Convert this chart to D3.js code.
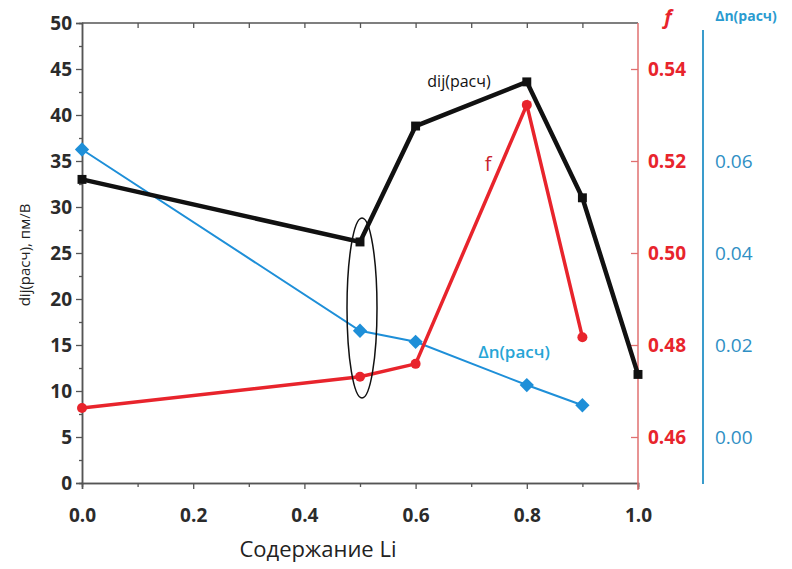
<!DOCTYPE html>
<meta charset="utf-8">
<title>dij, f, Δn vs Li</title>
<script src="https://d3js.org/d3.v7.min.js"></script>
<style>
	body { margin: 0; background: #fff; font-family: "Open Sans", sans-serif; }
	svg text { font-family: "Open Sans", sans-serif; }
</style>
<div id="chart"></div>
<script>

// содержание Li
var li = [0.0, 0.5, 0.6, 0.8, 0.9, 1.0];
// dij(расч), пм/В
var dij = [33.0, 26.2, 38.8, 43.6, 31.0, 11.8];
// f
var liF = [0.0, 0.5, 0.6, 0.8, 0.9];
var fVals = [0.4663, 0.4731, 0.4759, 0.5322, 0.4817];
// Δn(расч)
var liDn = [0.0, 0.5, 0.6, 0.8, 0.9];
var dn = [0.0625, 0.0231, 0.0207, 0.0113, 0.0069];

var xTicks = [0, 0.2, 0.4, 0.6, 0.8, 1.0];
var yTicks = [0, 5, 10, 15, 20, 25, 30, 35, 40, 45, 50];
var fTicks = [0.46, 0.48, 0.50, 0.52, 0.54];
var dnTicks = [0.00, 0.02, 0.04, 0.06];

var W = 792, H = 569;
var svg = d3.select("#chart").append("svg")
	.attr("width", W).attr("height", H);

var x = d3.scaleLinear().domain([0, 1]).range([82, 638]);
var y = d3.scaleLinear().domain([0, 50]).range([483, 23]);
var yF = d3.scaleLinear().domain([0.45, 0.55]).range([483, 23]);
var yDn = d3.scaleLinear().domain([-0.01, 0.09]).range([483, 23]);

var axisGrey = "#555";

// левая ось
svg.append("g").attr("transform", "translate(82,0)")
	.call(d3.axisLeft(y).tickValues(d3.range(2.5, 50, 5)).tickSize(3).tickFormat(""));
var gLeft = svg.append("g").attr("transform", "translate(82,0)")
	.call(d3.axisLeft(y).tickValues(yTicks).tickSize(6).tickPadding(4).tickFormat(d3.format("d")));
gLeft.selectAll("text").attr("font-size", 19).attr("font-weight", "bold").attr("fill", "#2b2b2b")
	.attr("font-family", "Open Sans");

// нижняя ось
svg.append("g").attr("transform", "translate(0,483)")
	.call(d3.axisBottom(x).tickValues(d3.range(0.1, 1, 0.2)).tickSize(4).tickFormat(""));
var gBottom = svg.append("g").attr("transform", "translate(0,483)")
	.call(d3.axisBottom(x).tickValues(xTicks).tickSize(6).tickPadding(20).tickFormat(d3.format(".1f")));
gBottom.selectAll("text").attr("font-size", 19).attr("font-weight", "bold").attr("fill", "#2b2b2b")
	.attr("font-family", "Open Sans");

// верхняя рамка
svg.append("g").attr("transform", "translate(0,23)")
	.call(d3.axisBottom(x).tickValues(d3.range(0.1, 1.0, 0.1)).tickSize(5).tickFormat(""))
	.select(".domain").remove();
svg.append("line").attr("x1", 82).attr("x2", 638).attr("y1", 23).attr("y2", 23)
	.attr("stroke", axisGrey).attr("stroke-width", 1.5);

svg.selectAll(".domain").attr("stroke", axisGrey).attr("stroke-width", 1.5);
svg.selectAll(".tick line").attr("stroke", axisGrey).attr("stroke-width", 1.3);

// правая ось f (красная)
var red = "#e8242c";
var gF = svg.append("g").attr("transform", "translate(638,0)");
gF.call(d3.axisLeft(yF).tickValues(d3.range(0.47, 0.55, 0.02)).tickSize(5).tickFormat(""));
gF.call(d3.axisLeft(yF).tickValues(fTicks).tickSize(7).tickFormat(""));
gF.selectAll(".domain").remove();
gF.selectAll(".tick line").attr("stroke", "#e07070").attr("stroke-width", 1.3);
gF.append("line").attr("x1", 0).attr("x2", 0).attr("y1", 23).attr("y2", 490)
	.attr("stroke", "#e07070").attr("stroke-width", 1.5);
gF.selectAll(".flabel").data(fTicks).enter().append("text")
	.attr("class", "flabel")
	.attr("x", 10).attr("y", function(d) { return yF(d); })
	.attr("dy", "0.35em")
	.attr("text-anchor", "start")
	.attr("font-family", "Open Sans")
	.attr("font-size", 19).attr("font-weight", "bold").attr("fill", red)
	.text(d3.format(".2f"));
svg.append("text").attr("x", 668).attr("y", 24)
	.attr("text-anchor", "middle")
	.attr("font-family", "DejaVu Serif").attr("font-style", "italic").attr("font-weight", "bold")
	.attr("font-size", 20).attr("fill", red).text("f");

// правая ось Δn (голубая)
var blue = "#2f8fc4";
svg.append("line").attr("x1", 703).attr("x2", 703).attr("y1", 30).attr("y2", 484)
	.attr("stroke", "#3a9ccc").attr("stroke-width", 2);
svg.selectAll(".dnlabel").data(dnTicks).enter().append("text")
	.attr("class", "dnlabel")
	.attr("x", 715).attr("y", function(d) { return yDn(d); })
	.attr("dy", "0.35em")
	.attr("font-size", 19).attr("fill", blue)
	.text(d3.format(".2f"));
svg.append("text").attr("x", 746).attr("y", 21)
	.attr("text-anchor", "middle")
	.attr("font-size", 14).attr("font-weight", "bold").attr("fill", "#2a9bd0")
	.text("Δn(расч)");

// подписи осей
svg.append("text")
	.attr("transform", "translate(30,255) rotate(-90)")
	.attr("text-anchor", "middle")
	.attr("font-size", 15).attr("fill", "#222")
	.text("dij(расч), пм/В");
svg.append("text").attr("x", 318).attr("y", 557)
	.attr("text-anchor", "middle")
	.attr("font-size", 22).attr("fill", "#222")
	.text("Содержание Li");

// линии данных
var lineBlue = "#1e8fd8";
svg.append("path")
	.datum(d3.zip(liDn, dn))
	.attr("fill", "none").attr("stroke", lineBlue).attr("stroke-width", 2)
	.attr("d", d3.line().x(function(d) { return x(d[0]); }).y(function(d) { return yDn(d[1]); }));

svg.append("path")
	.datum(d3.zip(liF, fVals))
	.attr("fill", "none").attr("stroke", red).attr("stroke-width", 3.5)
	.attr("d", d3.line().x(function(d) { return x(d[0]); }).y(function(d) { return yF(d[1]); }));

svg.append("path")
	.datum(d3.zip(li, dij))
	.attr("fill", "none").attr("stroke", "#111").attr("stroke-width", 4.5)
	.attr("d", d3.line().x(function(d) { return x(d[0]); }).y(function(d) { return y(d[1]); }));

// маркеры
svg.selectAll(".sq").data(d3.zip(li, dij)).enter().append("path")
	.attr("class", "sq")
	.attr("transform", function(d) { return "translate(" + x(d[0]) + "," + y(d[1]) + ")"; })
	.attr("d", d3.symbol().type(d3.symbolSquare).size(80))
	.attr("fill", "#111");

svg.selectAll(".ci").data(d3.zip(liF, fVals)).enter().append("circle")
	.attr("class", "ci")
	.attr("cx", function(d) { return x(d[0]); })
	.attr("cy", function(d) { return yF(d[1]); })
	.attr("r", 5).attr("fill", red);

svg.selectAll(".di").data(d3.zip(liDn, dn)).enter().append("path")
	.attr("class", "di")
	.attr("transform", function(d) { return "translate(" + x(d[0]) + "," + yDn(d[1]) + ")"; })
	.attr("d", d3.symbol().type(d3.symbolDiamond2).size(130))
	.attr("fill", lineBlue);

// эллипс вокруг x = 0.5
svg.append("ellipse")
	.attr("cx", x(0.5) + 2).attr("cy", 308)
	.attr("rx", 15).attr("ry", 90)
	.attr("fill", "none").attr("stroke", "#111").attr("stroke-width", 1.5);

// подписи серий
svg.append("text").attr("x", 459).attr("y", 87)
	.attr("text-anchor", "middle").attr("font-size", 16).attr("fill", "#111")
	.text("dij(расч)");
svg.append("text").attr("x", 488).attr("y", 171)
	.attr("text-anchor", "middle").attr("font-size", 20).attr("fill", "#c8242c")
	.text("f");
svg.append("text").attr("x", 514).attr("y", 358)
	.attr("text-anchor", "middle").attr("font-size", 17).attr("font-weight", "600").attr("fill", "#27a5d6")
	.text("Δn(расч)");

</script>
